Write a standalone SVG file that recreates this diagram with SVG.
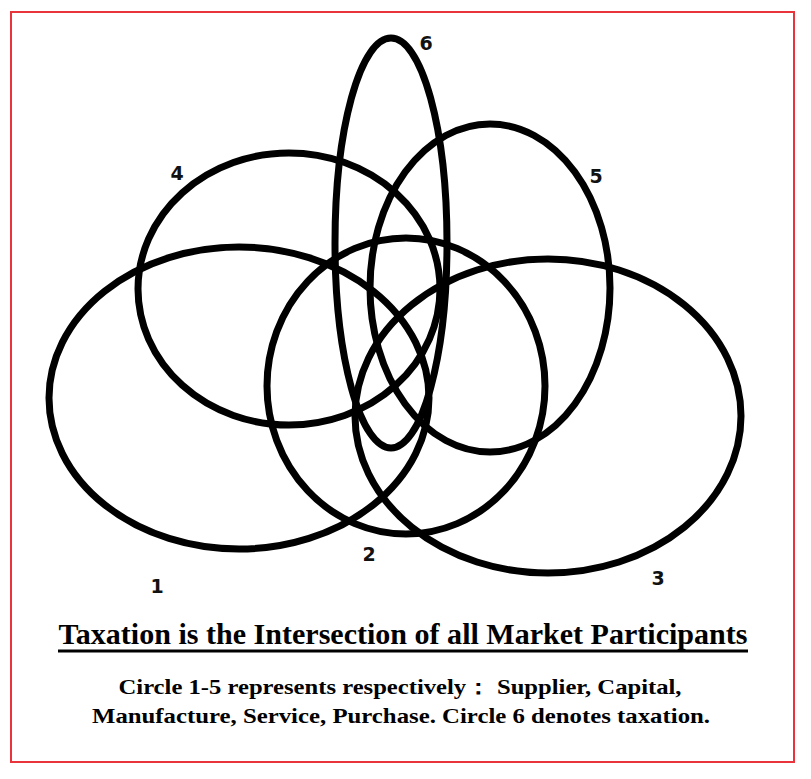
<svg xmlns="http://www.w3.org/2000/svg" width="811" height="779" viewBox="0 0 811 779">
<style>
.c{fill:none;stroke:#000;stroke-width:7}
.n{font-family:"DejaVu Sans","Liberation Sans",sans-serif;font-weight:bold;font-size:19px;fill:#111;text-anchor:middle}
.t{font-family:"Liberation Serif","Times New Roman",serif;font-weight:bold;fill:#000;text-anchor:middle}
</style>
<rect x="0" y="0" width="811" height="779" fill="#fff"/>
<rect x="11" y="12" width="783" height="750" fill="none" stroke="#e8343a" stroke-width="2"/>
<g id="circle1"><ellipse class="c" cx="239" cy="398" rx="190" ry="151"/><text class="n" x="157" y="593">1</text></g>
<g id="circle2"><ellipse class="c" cx="406" cy="386" rx="139" ry="148"/><text class="n" x="369" y="561">2</text></g>
<g id="circle3"><ellipse class="c" cx="548" cy="416" rx="193" ry="157"/><text class="n" x="658" y="585">3</text></g>
<g id="circle4"><ellipse class="c" cx="289" cy="289" rx="151" ry="136"/><text class="n" x="177" y="180">4</text></g>
<g id="circle5"><ellipse class="c" cx="490" cy="288" rx="120" ry="164"/><text class="n" x="596" y="183">5</text></g>
<g id="circle6"><ellipse class="c" cx="391" cy="243" rx="56" ry="205"/><text class="n" x="426" y="50">6</text></g>
<g id="connectors"></g>
<g id="caption">
<text class="t" x="403" y="644" font-size="29" textLength="689" lengthAdjust="spacingAndGlyphs">Taxation is the Intersection of all Market Participants</text>
<line x1="58" y1="651" x2="748" y2="651" stroke="#000" stroke-width="3"/>
<text class="t" x="400" y="694" font-size="21" textLength="563" lengthAdjust="spacingAndGlyphs">Circle 1-5 represents respectively：  Supplier, Capital,</text>
<text class="t" x="401" y="723" font-size="21" textLength="618" lengthAdjust="spacingAndGlyphs">Manufacture, Service, Purchase. Circle 6 denotes taxation.</text>
</g>
</svg>
